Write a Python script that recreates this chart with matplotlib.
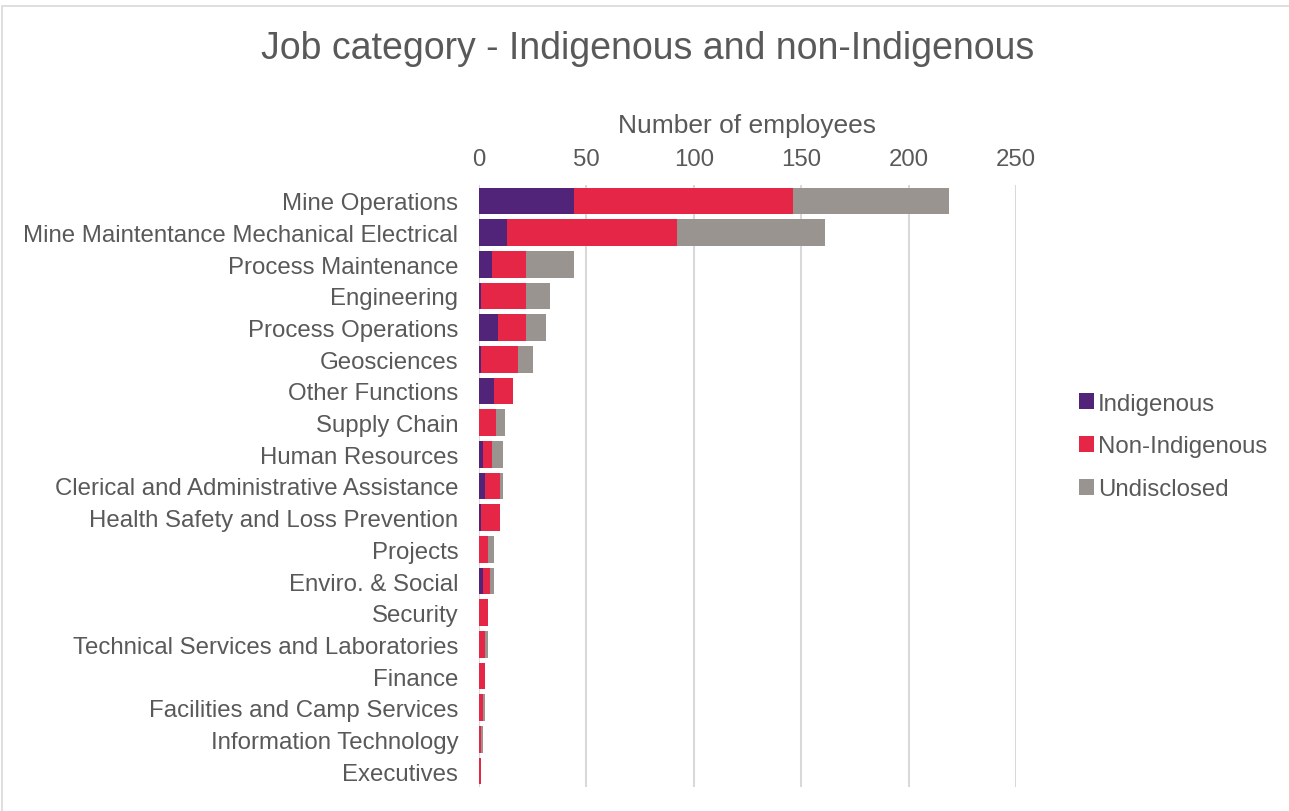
import matplotlib.pyplot as plt
import matplotlib.patches as mpatches
import numpy as np

plt.rcParams['font.family'] = ['Liberation Sans', 'DejaVu Sans']

# data
categories = ['Mine Operations', 'Mine Maintentance Mechanical Electrical',
              'Process Maintenance', 'Engineering', 'Process Operations',
              'Geosciences', 'Other Functions', 'Supply Chain',
              'Human Resources', 'Clerical and Administrative Assistance',
              'Health Safety and Loss Prevention', 'Projects',
              'Enviro. & Social', 'Security',
              'Technical Services and Laboratories', 'Finance',
              'Facilities and Camp Services', 'Information Technology',
              'Executives']
indigenous = [44, 13, 6, 1, 9, 1, 7, 0, 2, 3, 1, 0, 2, 0, 0, 0, 0, 0, 0]
non_indigenous = [102, 79, 16, 21, 13, 17, 9, 8, 4, 7, 9, 4, 3, 4, 3, 3, 2, 1, 1]
undisclosed = [73, 69, 22, 11, 9, 7, 0, 4, 5, 1, 0, 3, 2, 0, 1, 0, 1, 1, 0]
series_names = ['Indigenous', 'Non-Indigenous', 'Undisclosed']
colors = ['#51247a', '#e52646', '#9a9490']
xticks = [0, 50, 100, 150, 200, 250]

txt = '#595959'
fs = 17.3

fig = plt.figure(figsize=(12.89, 8.12), dpi=100)
ax = fig.add_axes([479 / 1289, 1 - 788 / 812, (1016 - 479) / 1289, (788 - 186) / 812])

y = np.arange(len(categories))
left = np.zeros(len(categories))
handles = []
for vals, name, c in zip([indigenous, non_indigenous, undisclosed], series_names, colors):
    vals = np.array(vals, dtype=float)
    b = ax.barh(y, vals, left=left, height=0.84, color=c, label=name, zorder=3)
    left += vals
    handles.append(b)

ax.set_xlim(0, 250)
ax.set_ylim(len(categories) - 0.5, -0.5)
ax.set_xticks(xticks)
ax.xaxis.tick_top()
ax.xaxis.set_label_position('top')
ax.set_xlabel('Number of employees', fontsize=19, color=txt, labelpad=11.5)
ax.set_yticks(y)
ax.set_yticklabels(categories)
ax.tick_params(axis='both', length=0, labelsize=fs, labelcolor=txt)
ax.tick_params(axis='y', pad=15)
ax.tick_params(axis='x', pad=11)
ax.grid(axis='x', color='#d9d9d9', linewidth=1.5, zorder=0)
for s in ax.spines.values():
    s.set_visible(False)

fig.text(0.5027, 1 - 49 / 812, 'Job category - Indigenous and non-Indigenous',
         ha='center', va='center', fontsize=27, color=txt)

leg = fig.legend(handles=handles, loc='center left',
                 bbox_to_anchor=(1057 / 1289, 1 - 447.5 / 812), frameon=False,
                 fontsize=fs, labelcolor=txt, handlelength=0.65,
                 handleheight=0.65, handletextpad=0.15, labelspacing=0.86)

# light outer border of the chart
fig.patches.append(mpatches.Rectangle((2 / 1289, -0.1), 1.2, 1 - 7 / 812 + 0.1,
                                      transform=fig.transFigure, fill=False,
                                      edgecolor='#d9d9d9', linewidth=1.2))

fig.savefig('out.png', dpi=100)
